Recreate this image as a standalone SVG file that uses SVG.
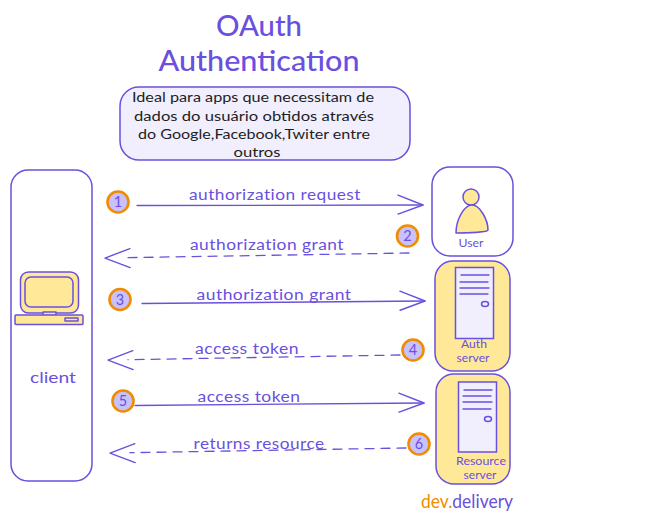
<svg xmlns="http://www.w3.org/2000/svg" width="671" height="523" viewBox="0 0 671 523">
<defs>
<marker id="arr" markerUnits="userSpaceOnUse" markerWidth="30" markerHeight="24" refX="25" refY="10" orient="auto" overflow="visible"><path d="M0 0L25 10L0 19" fill="none" stroke="#6a50de" stroke-width="1.4" stroke-linecap="round" stroke-linejoin="round"/></marker>
<marker id="arrd" markerUnits="userSpaceOnUse" markerWidth="30" markerHeight="24" refX="5" refY="10" orient="auto" overflow="visible"><path d="M0 0L25 10L0 19" fill="none" stroke="#6a50de" stroke-width="1.4" stroke-linecap="round" stroke-linejoin="round"/></marker>
</defs>
<style>
text{font-family:"Lato","Open Sans",sans-serif;fill:#6a50de;text-anchor:middle}
.s{stroke:#6a50de;stroke-width:1.5;stroke-linejoin:round;stroke-linecap:round}
.y{fill:#ffe999}
.w{fill:#fff}
.l{fill:#f1eefd}
.n{fill:none}
.c{fill:#c9c1fb;stroke:#f08c00;stroke-width:2.6}
.lbl{font-size:14.5px;letter-spacing:.4px}
.num{font-size:14.5px}
.sm{font-size:11px}
.conn{fill:none;stroke:#6a50de;stroke-width:1.3;stroke-linecap:round}
.d{stroke-dasharray:9 7}
.t{font-size:28.5px;font-weight:500}
.b{font-size:13.6px;fill:#1e1e1e}
</style>
<g id="title"><text class="t" x="259" y="36" textLength="86" lengthAdjust="spacingAndGlyphs">OAuth</text><text class="t" x="259" y="71" textLength="201" lengthAdjust="spacingAndGlyphs">Authentication</text></g>
<g id="note"><rect class="s l" x="120" y="87" width="290" height="73" rx="19"/>
<text class="b" x="253" y="102" textLength="242" lengthAdjust="spacingAndGlyphs">Ideal para apps que necessitam de</text>
<text class="b" x="254" y="121" textLength="240" lengthAdjust="spacingAndGlyphs">dados do usuário obtidos através</text>
<text class="b" x="254" y="139" textLength="232" lengthAdjust="spacingAndGlyphs">do Google,Facebook,Twiter entre</text>
<text class="b" x="257" y="157" textLength="47" lengthAdjust="spacingAndGlyphs">outros</text></g>
<g id="connectors">
<path class="conn" d="M137 205.500L423 205" marker-end="url(#arr)"/>
<path class="conn d" d="M409 253L125 257.700" marker-end="url(#arrd)"/>
<path class="conn" d="M142 303.500L425 301" marker-end="url(#arr)"/>
<path class="conn d" d="M400 355L128 359.700" marker-end="url(#arrd)"/>
<path class="conn" d="M135 405.500L424 403" marker-end="url(#arr)"/>
<path class="conn d" d="M406 448L130 452.700" marker-end="url(#arrd)"/>
</g>
<g id="client"><rect class="s n" x="11" y="170" width="81" height="311" rx="17"/>
<rect class="s y" x="20.500" y="272" width="58" height="41" rx="8"/><rect class="s y" x="25" y="277" width="48" height="30" rx="6"/>
<rect class="s y" x="43" y="312" width="13" height="3.500"/><rect class="s y" x="15" y="315" width="68" height="9.500" rx="1"/><rect class="s n" x="65" y="318" width="13" height="3"/>
<text x="53" y="383" font-size="16" textLength="46" lengthAdjust="spacingAndGlyphs">client</text></g>
<g id="user"><rect class="s w" x="432" y="167" width="81" height="89" rx="18"/>
<circle class="s y" cx="471" cy="197" r="8"/>
<path class="s y" d="M456 233C456 220 464 205 472 205C480 205 488 220 488 230C488 232 470 233 456 233Z"/>
<text class="sm" x="471" y="247" textLength="25" lengthAdjust="spacingAndGlyphs">User</text></g>
<g id="auth-server"><rect class="s y" x="435" y="261" width="75" height="110" rx="18"/>
<rect x="455.500" y="267.500" width="38" height="71" fill="#f1eefd" stroke="#6a50de" stroke-width="1.500"/>
<path class="conn" d="M461 275H489M460 282H488M460 288H489M460 294H488"/>
<ellipse cx="485" cy="304" rx="3.500" ry="2.500" fill="none" stroke="#6a50de" stroke-width="1.500"/>
<text class="sm" x="474" y="348" textLength="26" lengthAdjust="spacingAndGlyphs">Auth</text><text class="sm" x="473" y="362" textLength="33" lengthAdjust="spacingAndGlyphs">server</text></g>
<g id="resource-server"><rect class="s y" x="436" y="374" width="74" height="110" rx="18"/>
<rect x="458.500" y="382" width="38" height="70" fill="#f1eefd" stroke="#6a50de" stroke-width="1.500"/>
<path class="conn" d="M464 390H492M463 396H491M463 402H492M463 409H491"/>
<ellipse cx="488" cy="419" rx="3.500" ry="2.500" fill="none" stroke="#6a50de" stroke-width="1.500"/>
<text class="sm" x="481" y="465" textLength="50" lengthAdjust="spacingAndGlyphs">Resource</text><text class="sm" x="480" y="479" textLength="33" lengthAdjust="spacingAndGlyphs">server</text></g>
<g id="labels">
<text class="lbl" x="275" y="200" textLength="172" lengthAdjust="spacingAndGlyphs">authorization request</text>
<text class="lbl" x="267" y="250" textLength="154" lengthAdjust="spacingAndGlyphs">authorization grant</text>
<text class="lbl" x="274" y="300" textLength="155" lengthAdjust="spacingAndGlyphs">authorization grant</text>
<text class="lbl" x="247" y="354" textLength="104" lengthAdjust="spacingAndGlyphs">access token</text>
<text class="lbl" x="249" y="402" textLength="103" lengthAdjust="spacingAndGlyphs">access token</text>
<text class="lbl" x="259" y="449" textLength="131" lengthAdjust="spacingAndGlyphs">returns resource</text>
</g>
<g id="badge-1"><circle class="c" cx="118" cy="202" r="10.500"/><text class="num" x="118" y="207">1</text></g>
<g id="badge-2"><circle class="c" cx="407.500" cy="236" r="10.500"/><text class="num" x="407.500" y="241">2</text></g>
<g id="badge-3"><circle class="c" cx="120" cy="299.500" r="10.500"/><text class="num" x="120" y="305">3</text></g>
<g id="badge-4"><circle class="c" cx="413" cy="350" r="10.500"/><text class="num" x="413" y="355">4</text></g>
<g id="badge-5"><circle class="c" cx="123" cy="401" r="10.500"/><text class="num" x="123" y="406">5</text></g>
<g id="badge-6"><circle class="c" cx="419" cy="444" r="10.500"/><text class="num" x="419" y="449">6</text></g>
<g id="brand"><text x="467" y="508" font-size="19" textLength="92" lengthAdjust="spacingAndGlyphs"><tspan style="fill:#f08c00">dev.</tspan>delivery</text></g>
</svg>
